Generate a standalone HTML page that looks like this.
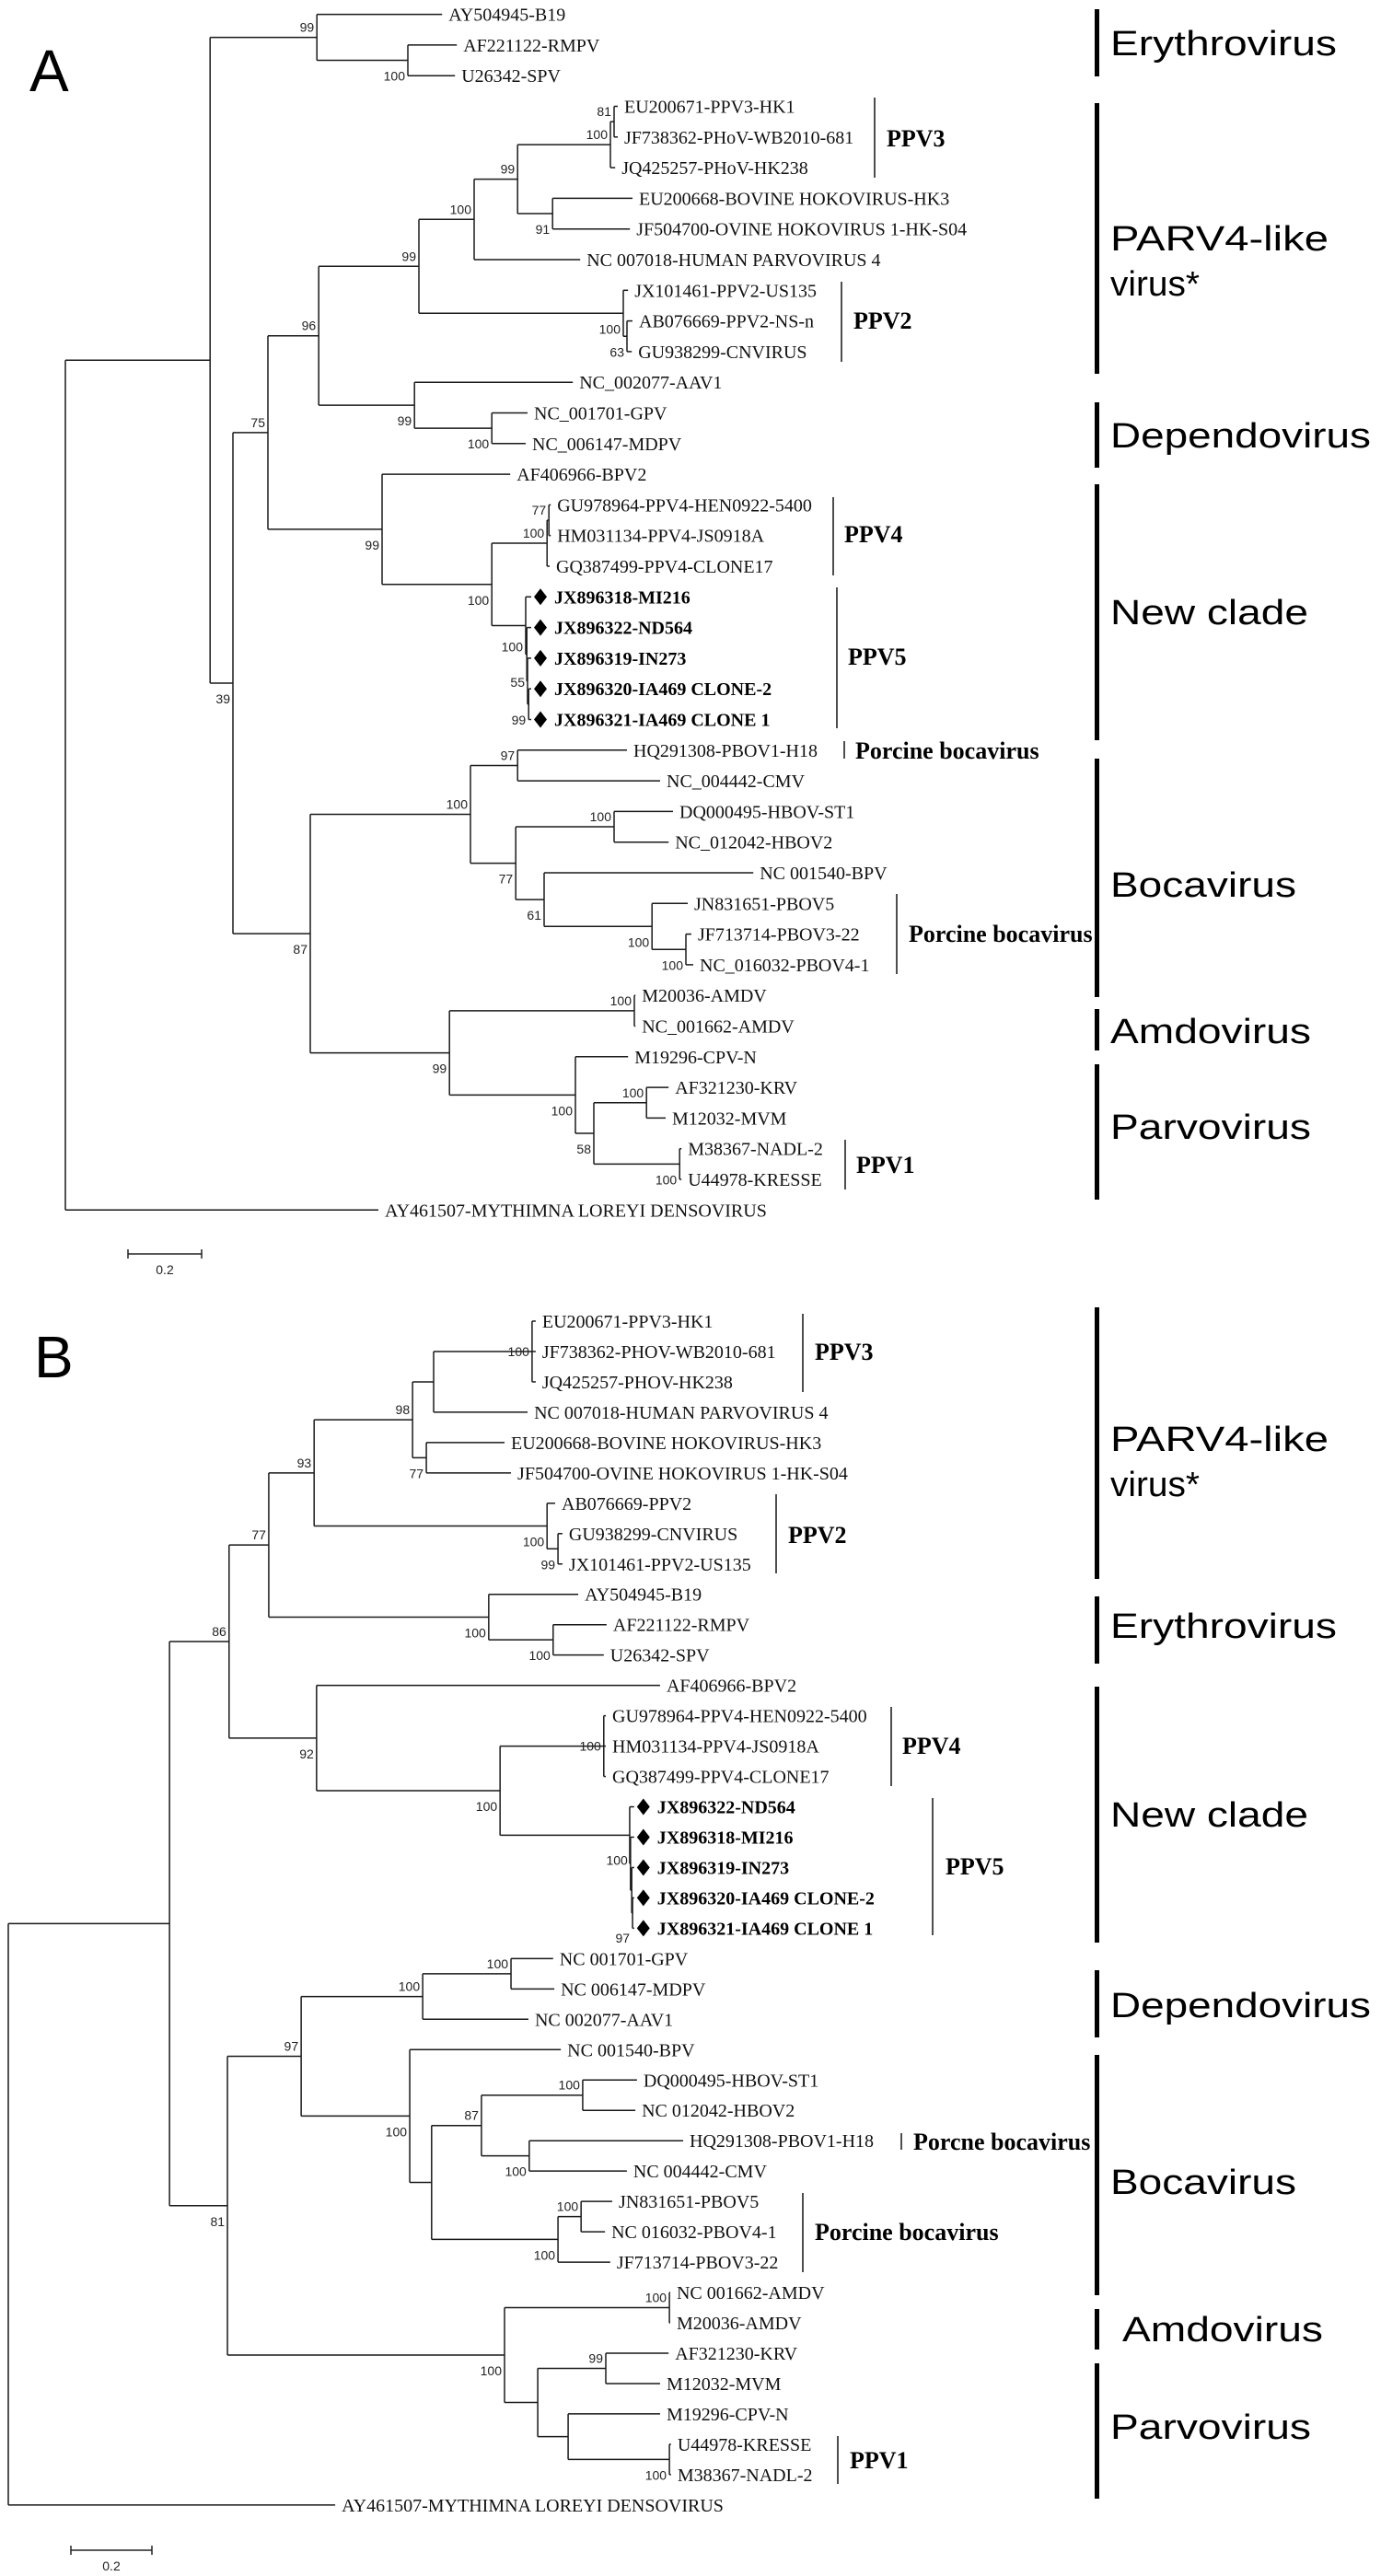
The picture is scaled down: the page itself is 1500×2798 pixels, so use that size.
<!DOCTYPE html>
<html>
<head>
<meta charset="utf-8">
<style>
  html,body{margin:0;padding:0;background:#fff;}
  svg{display:block;}
  .leaf{font-family:"Liberation Serif",serif;font-size:20px;fill:#111;}
  .leafb{font-family:"Liberation Serif",serif;font-size:20px;font-weight:bold;fill:#000;}
  .boot{font-family:"Liberation Sans",sans-serif;font-size:14px;fill:#222;}
  .grp{font-family:"Liberation Serif",serif;font-size:26px;font-weight:bold;fill:#000;}
  .big{font-family:"Liberation Sans",sans-serif;font-size:38px;fill:#000;}
  .panel{font-family:"Liberation Sans",sans-serif;font-size:64px;fill:#000;}
</style>
</head>
<body>
<svg id="fig" xmlns="http://www.w3.org/2000/svg" width="1500" height="2798" viewBox="0 0 1500 2798">
<rect width="1500" height="2798" fill="#fff"/>
<text class="panel" x="32" y="99">A</text>
<text class="panel" x="37" y="1496">B</text>
</svg>
<script>
// ---- tree data (branch depths in substitutions/site) ----
function N(d, boot, pos, ch){ return {d:d, boot:boot, pos:pos, ch:ch}; }
function L(n, d, bold){ return {n:n, d:d, bold:!!bold}; }

const treeA = N(0,'',null,[
  N(.393,'',null,[
    N(.683,'99','a',[L('AY504945-B19',1.023), N(.930,'100','b',[L('AF221122-RMPV',1.063),L('U26342-SPV',1.058)])]),
    N(.455,'39','b',[
      N(.550,'75','a',[
        N(.688,'96','a',[
          N(.960,'99','a',[
            N(1.110,'100','a',[
              N(1.228,'99','a',[
                N(1.480,'100','a',[N(1.490,'81','a',[L('EU200671-PPV3-HK1',1.500),L('JF738362-PHoV-WB2010-681',1.500)]), L('JQ425257-PHoV-HK238',1.493)]),
                N(1.323,'91','b',[L('EU200668-BOVINE HOKOVIRUS-HK3',1.540),L('JF504700-OVINE HOKOVIRUS 1-HK-S04',1.533)])
              ]),
              L('NC 007018-HUMAN PARVOVIRUS 4',1.398)
            ]),
            N(1.515,'100','b',[L('JX101461-PPV2-US135',1.528), N(1.525,'63','b',[L('AB076669-PPV2-NS-n',1.540),L('GU938299-CNVIRUS',1.538)])])
          ]),
          N(.948,'99','b',[L('NC_002077-AAV1',1.378), N(1.158,'100','b',[L('NC_001701-GPV',1.255),L('NC_006147-MDPV',1.250)])])
        ]),
        N(.860,'99','b',[L('AF406966-BPV2',1.208), N(1.158,'100','b',[
          N(1.308,'100','a',[N(1.313,'77','a',[L('GU978964-PPV4-HEN0922-5400',1.318),L('HM031134-PPV4-JS0918A',1.318)]),L('GQ387499-PPV4-CLONE17',1.315)]),
          N(1.250,'100',28,[L('JX896318-MI216',1.265,1), N(1.253,'',null,[L('JX896322-ND564',1.265,1), N(1.255,'55',6,[L('JX896319-IN273',1.265,1), N(1.258,'99','b',[L('JX896320-IA469 CLONE-2',1.265,1), L('JX896321-IA469 CLONE 1',1.265,1)])])])])
        ])])
      ]),
      N(.665,'87','b',[
        N(1.100,'100','a',[
          N(1.228,'97','a',[L('HQ291308-PBOV1-H18',1.525),L('NC_004442-CMV',1.615)]),
          N(1.223,'77','b',[
            N(1.490,'100','a',[L('DQ000495-HBOV-ST1',1.650),L('NC_012042-HBOV2',1.638)]),
            N(1.300,'61','b',[L('NC 001540-BPV',1.868), N(1.593,'100','b',[L('JN831651-PBOV5',1.690), N(1.685,'100','b',[L('JF713714-PBOV3-22',1.700),L('NC_016032-PBOV4-1',1.705)])])])
          ])
        ]),
        N(1.043,'99','b',[
          N(1.545,'100','a',[L('M20036-AMDV',1.548),L('NC_001662-AMDV',1.548)]),
          N(1.385,'100','b',[L('M19296-CPV-N',1.528), N(1.435,'58','b',[
            N(1.578,'100','a',[L('AF321230-KRV',1.638),L('M12032-MVM',1.630)]),
            N(1.668,'100','b',[L('M38367-NADL-2',1.673),L('U44978-KRESSE',1.673)])
          ])])
        ])
      ])
    ])
  ]),
  L('AY461507-MYTHIMNA LOREYI DENSOVIRUS',.850)
]);

const treeB = N(0,'',null,[
  N(.398,'',null,[
    N(.545,'86','a',[
      N(.643,'77','a',[
        N(.755,'93','a',[
          N(.998,'98','a',[
            N(1.050,'',null,[N(1.293,'100','m',[L('EU200671-PPV3-HK1',1.302),L('JF738362-PHOV-WB2010-681',1.302),L('JQ425257-PHOV-HK238',1.302)]), L('NC 007018-HUMAN PARVOVIRUS 4',1.282)]),
            N(1.032,'77','b',[L('EU200668-BOVINE HOKOVIRUS-HK3',1.225),L('JF504700-OVINE HOKOVIRUS 1-HK-S04',1.241)])
          ]),
          N(1.330,'100','b',[L('AB076669-PPV2',1.350), N(1.357,'99','b',[L('GU938299-CNVIRUS',1.368),L('JX101461-PPV2-US135',1.368)])])
        ]),
        N(1.186,'100','b',[L('AY504945-B19',1.407), N(1.345,'100','b',[L('AF221122-RMPV',1.477),L('U26342-SPV',1.470)])])
      ]),
      N(.761,'92','b',[L('AF406966-BPV2',1.609), N(1.214,'100','b',[
        N(1.470,'100','m',[L('GU978964-PPV4-HEN0922-5400',1.475),L('HM031134-PPV4-JS0918A',1.475),L('GQ387499-PPV4-CLONE17',1.475)]),
        N(1.534,'',null,[L('JX896322-ND564',1.545,1), N(1.536,'100',1,[L('JX896318-MI216',1.545,1), N(1.539,'',null,[L('JX896319-IN273',1.545,1), N(1.541,'97',32,[L('JX896320-IA469 CLONE-2',1.545,1), L('JX896321-IA469 CLONE 1',1.545,1)])])])])
      ])])
    ]),
    N(.541,'81','b',[
      N(.723,'97','a',[
        N(1.023,'100','a',[N(1.241,'100','a',[L('NC 001701-GPV',1.345),L('NC 006147-MDPV',1.348)]), L('NC 002077-AAV1',1.284)]),
        N(.991,'100','b',[L('NC 001540-BPV',1.364), N(1.045,'',null,[
          N(1.168,'87','a',[N(1.418,'100','a',[L('DQ000495-HBOV-ST1',1.552),L('NC 012042-HBOV2',1.548)]), N(1.286,'100','b',[L('HQ291308-PBOV1-H18',1.666),L('NC 004442-CMV',1.527)])]),
          N(1.357,'100','b',[N(1.414,'100','a',[L('JN831651-PBOV5',1.491),L('NC 016032-PBOV4-1',1.473)]), L('JF713714-PBOV3-22',1.486)])
        ])])
      ]),
      N(1.225,'100','b',[
        N(1.632,'100','a',[L('NC 001662-AMDV',1.634),L('M20036-AMDV',1.634)]),
        N(1.307,'',null,[N(1.475,'99','a',[L('AF321230-KRV',1.630),L('M12032-MVM',1.609)]), N(1.382,'',null,[L('M19296-CPV-N',1.609), N(1.632,'100','b',[L('U44978-KRESSE',1.636),L('M38367-NADL-2',1.636)])])])
      ])
    ])
  ]),
  L('AY461507-MYTHIMNA LOREYI DENSOVIRUS',.807)
]);

// clade annotations: [label, y-top, y-bottom, bar x, label x, label y]
const subA = [['PPV3',106,193,950,963,150],['PPV2',306,393,914,927,348],['PPV4',540,625,905,917,580],['PPV5',638,791,909,921,713],['Porcine bocavirus',805,824,917,929,815],['Porcine bocavirus',971,1058,974,987,1014],['PPV1',1238,1292,918,930,1265]];
const subB = [['PPV3',1427,1512,872,885,1468],['PPV2',1623,1709,843,856,1667],['PPV4',1854,1940,968,980,1896],['PPV5',1953,2102,1013,1027,2027],['Porcne bocavirus',2317,2335,979,992,2326],['Porcine bocavirus',2382,2468,872,885,2424],['PPV1',2646,2698,910,923,2672]];
// genus: [lines, top, bottom, label x, first-line center y, widths]
const genA = [[['Erythrovirus'],10,83,1206,47,[246]],[['PARV4-like','virus*'],112,406,1206,259,[237,97]],[['Dependovirus'],437,508,1206,473,[283]],[['New clade'],526,804,1206,665,[215]],[['Bocavirus'],824,1083,1206,961,[202]],[['Amdovirus'],1096,1141,1206,1120,[218]],[['Parvovirus'],1156,1303,1206,1224,[218]]];
const genB = [[['PARV4-like','virus*'],1420,1715,1206,1563,[237,97]],[['Erythrovirus'],1734,1807,1206,1766,[246]],[['New clade'],1832,2110,1206,1971,[215]],[['Dependovirus'],2140,2213,1206,2178,[283]],[['Bocavirus'],2232,2493,1206,2370,[202]],[['Amdovirus'],2508,2552,1219,2530,[218]],[['Parvovirus'],2567,2714,1206,2636,[218]]];
const scaleLabel = '0.2';
const scaleValue = 0.2;

const svg = document.getElementById('fig');
const NS = 'http://www.w3.org/2000/svg';
function mk(tag, attrs, parent){
  const e = document.createElementNS(NS, tag);
  for (const k in attrs) e.setAttribute(k, attrs[k]);
  (parent||svg).appendChild(e);
  return e;
}

function drawTree(tree, rootX, k, y0, sp, prefix){
  const X = d => rootX + d*k;
  let idx = 0;
  function lay(n){
    if (!n.ch){ n.y = y0 + idx*sp; idx++; return; }
    n.ch.forEach(lay);
    n.y = (n.ch[0].y + n.ch[n.ch.length-1].y)/2;
  }
  lay(tree);
  const g = mk('g', {});
  
  
  function draw(n){
    if (!n.ch){
      const t = mk('text', {x: X(n.d) + (n.bold?25:7), y: n.y + 7, class: n.bold?'leafb':'leaf'}, g);
      t.textContent = n.n;
      
      
      if (n.bold){
        const cx = X(n.d) + 10;
        const dm = mk('polygon', {points: `${cx},${n.y-9} ${cx+7},${n.y} ${cx},${n.y+9} ${cx-7},${n.y}`, fill:'#000'}, g);
        
        
      }
      return;
    }
    const x = X(n.d);
    const v = mk('line', {x1:x, x2:x, y1:n.ch[0].y, y2:n.ch[n.ch.length-1].y, stroke:'#1a1a1a', 'stroke-width':1.5}, g);
    
    
    n.ch.forEach(c => {
      const h = mk('line', {x1:x, x2:X(c.d), y1:c.y, y2:c.y, stroke:'#1a1a1a', 'stroke-width':1.5}, g);
      
      
      draw(c);
    });
    if (n.boot){
      let dy = n.pos==='a' ? -6 : n.pos==='b' ? 22 : n.pos==='m' ? 5 : n.pos;
      const t = mk('text', {x: x-3, y: n.y+dy, class:'boot', 'text-anchor':'end'}, g);
      t.textContent = n.boot;
      
      
    }
  }
  draw(tree);
  // scale bar
  return X;
}

function drawAnn(sub, gen, prefix){
  sub.forEach(s => {
    const l = mk('line', {x1:s[3], x2:s[3], y1:s[1], y2:s[2], stroke:'#222', 'stroke-width':1.6});
    
    
    const t = mk('text', {x:s[4], y:s[5]+9, class:'grp'});
    t.textContent = s[0];
    
    
  });
  gen.forEach(gn => {
    const r = mk('rect', {x:1189, y:gn[1], width:5, height:gn[2]-gn[1], fill:'#000'});
    
    
    gn[0].forEach((line, i) => {
      const t = mk('text', {x:gn[3], y:gn[4]+13+i*49, class:'big', textLength:gn[5][i], lengthAdjust:'spacingAndGlyphs'});
      t.textContent = line;
      
      
    });
  });
}

function scaleBar(X, y, prefix){
  const x1 = X(0), x2 = X(scaleValue);
  const g = mk('g', {});
  
  
  mk('line', {x1:x1+68, x2:x2+68, y1:y, y2:y, stroke:'#222','stroke-width':1.5}, g);
  mk('line', {x1:x1+68, x2:x1+68, y1:y-5, y2:y+5, stroke:'#222','stroke-width':1.5}, g);
  mk('line', {x1:x2+68, x2:x2+68, y1:y-5, y2:y+5, stroke:'#222','stroke-width':1.5}, g);
  const t = mk('text', {x:(x1+x2)/2+68, y:y+22, class:'boot', 'text-anchor':'middle'}, g);
  t.textContent = scaleLabel;
}

const XA = drawTree(treeA, 71, 400, 15.6, 33.3, 'panel-a');
const XB = drawTree(treeB, 9, 440, 1435, 32.97, 'panel-b');
drawAnn(subA, genA, 'panel-a');
drawAnn(subB, genB, 'panel-b');
scaleBar(XA, 1362, 'panel-a');
scaleBar(XB, 2770, 'panel-b');
</script>
</body>
</html>
